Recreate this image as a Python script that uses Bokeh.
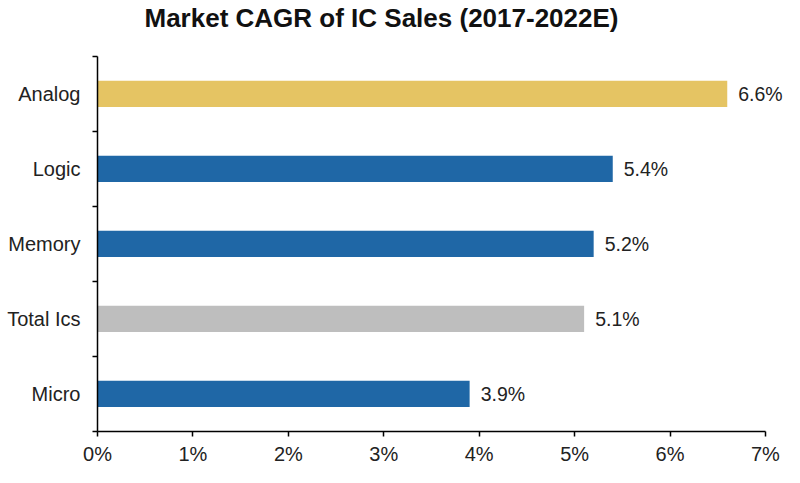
from bokeh.plotting import figure
from bokeh.models import FixedTicker, PrintfTickFormatter, ColumnDataSource, Range1d, LabelSet, Label
from bokeh.core.properties import value
from bokeh.embed import file_html
from bokeh.resources import INLINE

# Data (top to bottom)
title_text = "Market CAGR of IC Sales (2017-2022E)"
categories = ["Analog", "Logic", "Memory", "Total Ics", "Micro"]
cagr = [6.6, 5.4, 5.2, 5.1, 3.9]
bar_colors = ["#E5C463", "#1F67A6", "#1F67A6", "#BEBEBE", "#1F67A6"]
value_labels = ["6.6%", "5.4%", "5.2%", "5.1%", "3.9%"]
x_ticks = [0, 1, 2, 3, 4, 5, 6, 7]

n = len(categories)
ypos = [n - i - 0.5 for i in range(n)]
headroom = 0.745  # space above the axis for the title (in category units)

src = ColumnDataSource(dict(cat=categories, v=cagr, y=ypos, c=bar_colors, lab=value_labels))

p = figure(width=784, height=467, output_backend="svg", toolbar_location=None,
           x_range=Range1d(0, 7.2), y_range=Range1d(0, n + headroom),
           min_border_left=97, min_border_right=0, min_border_top=0, min_border_bottom=27)

# title drawn as a label anchored just above the top of the y axis
title = Label(x=0, y=n, x_offset=47, y_offset=38, text=title_text,
              text_font="Liberation Sans", text_font_size="26px", text_font_style="bold",
              text_color="#111111", text_baseline="alphabetic", text_align="left")
p.add_layout(title)

p.hbar(y="y", left=0, right="v", height=0.35, fill_color="c", line_color=None, source=src)
labels = LabelSet(x="v", y="y", text="lab", x_offset=11, text_baseline="middle", text_align="left",
                  text_font=value("Liberation Sans"), text_font_size=value("19.5px"),
                  text_color="#222222", source=src)
p.add_layout(labels)

p.outline_line_color = None
p.grid.visible = False
p.background_fill_color = "white"
p.border_fill_color = "white"

xa = p.xaxis[0]
xa.bounds = (0, 7)
xa.ticker = FixedTicker(ticks=x_ticks)
xa.formatter = PrintfTickFormatter(format="%d%%")
xa.major_tick_out = 5
xa.major_tick_in = 0
xa.minor_tick_line_color = None
xa.axis_line_width = 1.5
xa.axis_line_color = "black"
xa.major_tick_line_width = 1.5
xa.major_tick_line_color = "black"
xa.major_label_text_font = "Liberation Sans"
xa.major_label_text_font_size = "20px"
xa.major_label_text_color = "#222222"
xa.major_label_standoff = 6

ya = p.yaxis[0]
ya.bounds = (0, n)
ya.ticker = FixedTicker(ticks=ypos, minor_ticks=list(range(n + 1)))
ya.major_label_overrides = {y: c for y, c in zip(ypos, categories)}
ya.major_tick_out = 0
ya.major_tick_in = 0
ya.minor_tick_out = 5
ya.minor_tick_in = 0
ya.minor_tick_line_width = 1.5
ya.minor_tick_line_color = "black"
ya.axis_line_width = 1.5
ya.axis_line_color = "black"
ya.major_label_text_font = "Liberation Sans"
ya.major_label_text_font_size = "20px"
ya.major_label_text_color = "#222222"
ya.major_label_standoff = 12

open("out.html", "w").write(file_html(p, INLINE))
